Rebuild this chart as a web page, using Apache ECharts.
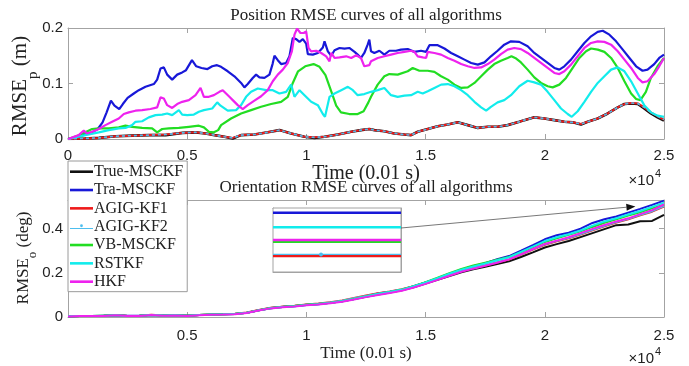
<!DOCTYPE html>
<html>
<head>
<meta charset="utf-8">
<script src="https://cdn.jsdelivr.net/npm/echarts/dist/echarts.min.js"></script>
<style>
  html, body { margin: 0; padding: 0; background: #ffffff; }
  #chart { width: 689px; height: 366px; }
</style>
</head>
<body>
<div id="chart"></div>
<script>
// ---------- data ----------
const seriesNames = ['True-MSCKF', 'Tra-MSCKF', 'AGIG-KF1', 'AGIG-KF2', 'VB-MSCKF', 'RSTKF', 'HKF'];

// Position RMSE (m): [time step, value]
const posTrue = [[0,0],[700,0.001],[1300,0.002],[2000,0.005],[2700,0.006],[3400,0.007],[4100,0.007],[4800,0.011],[5350,0.012],[5770,0.010],[6150,0.007],[6560,0.004],[6910,0.001],[7260,0.007],[7820,0.008],[8380,0.012],[8870,0.016],[9360,0.010],[9920,0.004],[10340,0.002],[10760,0.004],[11320,0.008],[11880,0.013],[12290,0.016],[12640,0.018],[12850,0.016],[13270,0.014],[13690,0.010],[14110,0.008],[14390,0.007],[14670,0.013],[15090,0.018],[15510,0.023],[15930,0.026],[16350,0.030],[16770,0.025],[17190,0.020],[17610,0.022],[18020,0.022],[18440,0.025],[18930,0.031],[19140,0.034],[19560,0.039],[19980,0.037],[20400,0.034],[20820,0.031],[21170,0.030],[21520,0.026],[21800,0.031],[22220,0.037],[22640,0.046],[23060,0.057],[23340,0.063],[23620,0.064],[23900,0.063],[24170,0.055],[24450,0.046],[24730,0.039],[25000,0.033]];
const posKF1 = [[0,0],[700,0.001],[1300,0.002],[2000,0.005],[2700,0.006],[3400,0.007],[4100,0.008],[4800,0.011],[5350,0.012],[5770,0.010],[6150,0.007],[6560,0.004],[6910,0.002],[7260,0.007],[7820,0.008],[8380,0.012],[8870,0.016],[9360,0.010],[9920,0.004],[10340,0.003],[10760,0.004],[11320,0.008],[11880,0.013],[12290,0.016],[12640,0.018],[12850,0.016],[13270,0.014],[13690,0.010],[14110,0.008],[14390,0.007],[14670,0.013],[15090,0.018],[15510,0.023],[15930,0.026],[16350,0.030],[16770,0.025],[17190,0.020],[17610,0.022],[18020,0.022],[18440,0.025],[18930,0.031],[19140,0.034],[19560,0.039],[19980,0.037],[20400,0.034],[20820,0.031],[21170,0.030],[21520,0.027],[21800,0.031],[22220,0.037],[22640,0.046],[23060,0.057],[23340,0.063],[23620,0.065],[23900,0.064],[24170,0.057],[24450,0.048],[24730,0.041],[25000,0.035]];
const posKF2 = [[0,0],[700,0.001],[1300,0.002],[2000,0.005],[2700,0.006],[3400,0.007],[4100,0.008],[4800,0.011],[5350,0.012],[5770,0.010],[6150,0.007],[6560,0.004],[6910,0.002],[7260,0.007],[7820,0.008],[8380,0.012],[8870,0.016],[9360,0.010],[9920,0.004],[10340,0.003],[10760,0.004],[11320,0.008],[11880,0.013],[12290,0.016],[12640,0.018],[12850,0.016],[13270,0.014],[13690,0.010],[14110,0.008],[14390,0.007],[14670,0.013],[15090,0.018],[15510,0.023],[15930,0.026],[16350,0.030],[16770,0.025],[17190,0.020],[17610,0.022],[18020,0.022],[18440,0.025],[18930,0.031],[19140,0.034],[19560,0.039],[19980,0.037],[20400,0.034],[20820,0.031],[21170,0.030],[21520,0.027],[21800,0.031],[22220,0.037],[22640,0.046],[23060,0.057],[23340,0.063],[23620,0.065],[23900,0.064],[24170,0.057],[24450,0.048],[24730,0.041],[25000,0.035]];
const posTra = [[0,0],[300,0.001],[700,0.008],[1000,0.012],[1250,0.018],[1450,0.030],[1620,0.048],[1800,0.069],[1950,0.060],[2150,0.054],[2300,0.063],[2500,0.074],[2760,0.082],[2970,0.088],[3250,0.094],[3600,0.099],[3740,0.107],[3880,0.127],[4020,0.129],[4160,0.116],[4370,0.107],[4580,0.116],[4790,0.120],[4950,0.124],[5100,0.135],[5200,0.142],[5380,0.131],[5600,0.128],[5850,0.126],[6050,0.131],[6250,0.133],[6420,0.130],[6700,0.122],[6980,0.113],[7260,0.101],[7400,0.093],[7540,0.099],[7750,0.110],[7890,0.116],[8030,0.111],[8240,0.110],[8450,0.116],[8580,0.135],[8660,0.150],[8800,0.142],[8940,0.135],[9150,0.137],[9290,0.149],[9430,0.182],[9570,0.180],[9710,0.175],[9850,0.180],[9990,0.172],[10060,0.153],[10270,0.152],[10480,0.155],[10690,0.165],[10760,0.176],[10900,0.158],[11040,0.150],[11180,0.160],[11390,0.164],[11600,0.163],[11800,0.164],[12020,0.157],[12150,0.152],[12290,0.146],[12430,0.155],[12570,0.170],[12640,0.179],[12710,0.158],[12850,0.155],[13060,0.159],[13270,0.152],[13480,0.159],[13760,0.159],[13970,0.161],[14250,0.162],[14530,0.157],[14810,0.159],[15020,0.157],[15160,0.169],[15510,0.169],[15790,0.163],[16070,0.155],[16350,0.149],[16630,0.143],[16910,0.137],[17190,0.134],[17470,0.138],[17740,0.149],[18020,0.159],[18300,0.170],[18580,0.176],[18930,0.175],[19280,0.167],[19560,0.155],[19840,0.146],[20120,0.137],[20400,0.128],[20610,0.125],[20820,0.131],[21100,0.143],[21380,0.158],[21660,0.173],[21940,0.185],[22220,0.193],[22430,0.195],[22710,0.188],[22990,0.176],[23270,0.161],[23550,0.146],[23830,0.131],[24100,0.123],[24310,0.125],[24590,0.135],[24800,0.146],[25000,0.152]];
const posVB = [[0,0],[400,0.006],[730,0.012],[1010,0.018],[1290,0.019],[1710,0.019],[2130,0.021],[2410,0.024],[2690,0.022],[3110,0.020],[3530,0.019],[3740,0.012],[3950,0.018],[4230,0.019],[4650,0.020],[5070,0.022],[5490,0.024],[5700,0.021],[5910,0.013],[6120,0.012],[6300,0.016],[6420,0.025],[6840,0.037],[7260,0.046],[7680,0.052],[8100,0.058],[8520,0.063],[8940,0.067],[9220,0.076],[9430,0.101],[9650,0.122],[9950,0.131],[10300,0.135],[10550,0.130],[10800,0.115],[11050,0.085],[11250,0.060],[11450,0.048],[11800,0.045],[12150,0.045],[12400,0.050],[12600,0.066],[12710,0.076],[12990,0.098],[13270,0.113],[13480,0.117],[13830,0.116],[14250,0.122],[14460,0.128],[14740,0.123],[15090,0.123],[15370,0.121],[15650,0.113],[15930,0.107],[16210,0.098],[16490,0.092],[16770,0.093],[17050,0.101],[17330,0.113],[17610,0.125],[17880,0.135],[18160,0.141],[18440,0.146],[18600,0.149],[18800,0.145],[19000,0.138],[19280,0.125],[19560,0.111],[19840,0.101],[20120,0.095],[20330,0.093],[20610,0.098],[20890,0.110],[21170,0.128],[21450,0.146],[21730,0.158],[21940,0.163],[22220,0.161],[22500,0.157],[22780,0.146],[23060,0.128],[23340,0.104],[23620,0.082],[23830,0.072],[24010,0.070],[24240,0.085],[24450,0.110],[24730,0.131],[25000,0.146]];
const posRST = [[0,0],[730,0.007],[1290,0.012],[1710,0.016],[2130,0.019],[2410,0.020],[2690,0.025],[2830,0.031],[3110,0.032],[3390,0.039],[3670,0.043],[3950,0.044],[4160,0.046],[4370,0.043],[4650,0.052],[4790,0.044],[5000,0.043],[5280,0.044],[5490,0.049],[5700,0.052],[6050,0.055],[6260,0.066],[6400,0.060],[6700,0.051],[7050,0.052],[7260,0.061],[7470,0.076],[7680,0.085],[7960,0.091],[8310,0.088],[8590,0.088],[8870,0.082],[9150,0.085],[9360,0.098],[9500,0.076],[9710,0.088],[9920,0.079],[10200,0.067],[10480,0.061],[10690,0.045],[10780,0.040],[10970,0.076],[11180,0.082],[11460,0.088],[11740,0.094],[11950,0.088],[12150,0.079],[12430,0.081],[12710,0.085],[12990,0.088],[13270,0.092],[13550,0.079],[13830,0.076],[14110,0.078],[14390,0.079],[14670,0.085],[14880,0.082],[15090,0.086],[15370,0.092],[15650,0.098],[15930,0.099],[16210,0.095],[16490,0.088],[16770,0.079],[17050,0.067],[17330,0.057],[17540,0.051],[17740,0.058],[18020,0.066],[18300,0.070],[18580,0.079],[18930,0.095],[19280,0.105],[19560,0.102],[19840,0.098],[20120,0.085],[20400,0.070],[20680,0.055],[20960,0.045],[21130,0.040],[21380,0.050],[21660,0.067],[21940,0.085],[22220,0.101],[22500,0.113],[22780,0.125],[23060,0.129],[23340,0.122],[23620,0.104],[23900,0.082],[24170,0.061],[24450,0.048],[24730,0.042],[25000,0.040]];
const posHKF = [[0,0],[450,0.007],[660,0.015],[800,0.010],[1010,0.013],[1290,0.018],[1570,0.025],[1850,0.031],[2130,0.037],[2340,0.045],[2550,0.048],[2830,0.051],[3110,0.052],[3460,0.054],[3740,0.057],[3880,0.075],[4020,0.073],[4160,0.061],[4370,0.056],[4580,0.063],[4790,0.067],[5070,0.070],[5350,0.079],[5560,0.092],[5700,0.076],[5910,0.076],[6120,0.079],[6350,0.085],[6490,0.088],[6630,0.082],[6770,0.076],[6910,0.070],[7120,0.061],[7330,0.054],[7540,0.061],[7820,0.069],[8100,0.077],[8380,0.088],[8590,0.104],[8800,0.116],[9010,0.125],[9220,0.137],[9390,0.158],[9500,0.188],[9610,0.199],[9750,0.191],[9890,0.191],[9990,0.194],[10090,0.164],[10200,0.158],[10410,0.159],[10620,0.155],[10830,0.149],[10970,0.140],[11040,0.155],[11180,0.146],[11390,0.147],[11670,0.149],[11880,0.146],[12090,0.151],[12290,0.146],[12430,0.131],[12640,0.133],[12710,0.140],[12990,0.146],[13270,0.149],[13550,0.152],[13830,0.155],[14110,0.157],[14390,0.159],[14530,0.157],[14670,0.149],[14880,0.147],[15020,0.146],[15090,0.157],[15370,0.155],[15650,0.152],[15930,0.146],[16210,0.141],[16490,0.135],[16770,0.131],[17050,0.128],[17330,0.129],[17610,0.135],[17880,0.143],[18160,0.153],[18440,0.161],[18720,0.164],[19000,0.162],[19280,0.155],[19560,0.146],[19840,0.137],[20120,0.128],[20400,0.119],[20610,0.117],[20820,0.122],[21100,0.134],[21380,0.149],[21660,0.164],[21940,0.173],[22220,0.176],[22500,0.175],[22780,0.170],[23060,0.158],[23340,0.143],[23620,0.128],[23900,0.110],[24100,0.102],[24310,0.104],[24590,0.117],[24800,0.131],[25000,0.146]];

// Orientation RMSE (deg), sampled on a common time grid
const timeO = [0,500,1000,1500,2000,2500,3000,3500,4000,4500,5000,5500,6000,6500,7000,7500,8000,8500,9000,9500,10000,10500,11000,11500,12000,12500,13000,13500,14000,14500,15000,15500,16000,16500,17000,17500,18000,18500,19000,19500,20000,20500,21000,21500,22000,22500,23000,23500,24000,24500,25000];
const oriTrue = [0.003,0.005,0.004,0.006,0.008,0.005,0.006,0.009,0.007,0.008,0.006,0.009,0.011,0.012,0.014,0.019,0.031,0.041,0.046,0.050,0.055,0.059,0.065,0.071,0.081,0.092,0.102,0.111,0.121,0.135,0.151,0.168,0.186,0.203,0.216,0.228,0.240,0.252,0.272,0.293,0.315,0.330,0.344,0.362,0.380,0.398,0.416,0.419,0.434,0.435,0.463];
const oriTra = [0.003,0.005,0.005,0.006,0.008,0.006,0.006,0.009,0.008,0.008,0.006,0.009,0.010,0.012,0.014,0.019,0.030,0.040,0.045,0.049,0.054,0.058,0.064,0.071,0.082,0.094,0.106,0.114,0.124,0.139,0.157,0.175,0.196,0.213,0.230,0.244,0.262,0.276,0.300,0.325,0.352,0.370,0.382,0.400,0.426,0.443,0.455,0.473,0.490,0.508,0.527];
const oriKF1 = [0.003,0.005,0.004,0.006,0.009,0.005,0.006,0.010,0.007,0.008,0.006,0.009,0.011,0.012,0.015,0.020,0.032,0.042,0.047,0.051,0.057,0.061,0.067,0.075,0.086,0.097,0.108,0.116,0.126,0.140,0.156,0.173,0.191,0.207,0.221,0.233,0.247,0.260,0.283,0.305,0.327,0.343,0.357,0.374,0.393,0.411,0.428,0.443,0.461,0.477,0.500];
const oriKF2 = [0.003,0.005,0.004,0.006,0.009,0.005,0.006,0.010,0.007,0.008,0.006,0.009,0.011,0.012,0.015,0.020,0.032,0.042,0.047,0.051,0.057,0.061,0.067,0.075,0.086,0.096,0.107,0.116,0.126,0.140,0.156,0.174,0.192,0.208,0.222,0.234,0.248,0.261,0.284,0.306,0.328,0.344,0.358,0.375,0.394,0.412,0.429,0.444,0.462,0.478,0.501];
const oriVB = [0.003,0.005,0.004,0.006,0.008,0.005,0.006,0.009,0.007,0.008,0.006,0.009,0.011,0.012,0.014,0.019,0.030,0.040,0.045,0.050,0.055,0.059,0.064,0.071,0.082,0.093,0.104,0.113,0.124,0.140,0.158,0.178,0.199,0.218,0.233,0.246,0.259,0.272,0.294,0.316,0.340,0.357,0.372,0.388,0.408,0.427,0.443,0.460,0.474,0.492,0.509];
const oriRST = [0.003,0.005,0.004,0.006,0.008,0.005,0.006,0.009,0.007,0.008,0.006,0.009,0.011,0.012,0.014,0.019,0.030,0.040,0.045,0.049,0.054,0.058,0.064,0.071,0.081,0.093,0.104,0.113,0.123,0.139,0.156,0.176,0.196,0.214,0.229,0.242,0.257,0.271,0.295,0.319,0.344,0.361,0.375,0.392,0.414,0.433,0.447,0.464,0.480,0.499,0.518];
const oriHKF = [0.002,0.004,0.004,0.005,0.008,0.005,0.005,0.009,0.006,0.007,0.005,0.008,0.010,0.011,0.013,0.018,0.029,0.039,0.044,0.048,0.053,0.057,0.062,0.069,0.079,0.090,0.100,0.109,0.119,0.134,0.150,0.168,0.187,0.205,0.219,0.232,0.246,0.261,0.284,0.308,0.331,0.346,0.361,0.380,0.399,0.417,0.433,0.447,0.466,0.484,0.510];

// time window of the zoomed view at the end of the run
const insetTimes = [24996, 24997.5, 25000];

// tick labels (time axis shown in units of 10^4)
const xTicks = [0, 5000, 10000, 15000, 20000, 25000];
const xTickLabels = ['0', '0.5', '1', '1.5', '2', '2.5'];
const yTicksP = [0, 0.1, 0.2];
const yTickLabelsP = ['0', '0.1', '0.2'];
const yTicksO = [0, 0.2, 0.4];
const yTickLabelsO = ['0', '0.2', '0.4'];

// ---------- styling ----------
const colors = {
  'True-MSCKF': '#111111',
  'Tra-MSCKF': '#1818d8',
  'AGIG-KF1': '#ee1a1a',
  'AGIG-KF2': '#4dbeee',
  'VB-MSCKF': '#22dd22',
  'RSTKF': '#12ecec',
  'HKF': '#ee22ee'
};
const boxColor = '#a3a3a3';
const inkColor = '#222222';
const serif = '"Liberation Serif", "Times New Roman", serif';
const sans = '"Liberation Sans", Arial, sans-serif';

const posData = [posTrue, posTra, posKF1, posKF2, posVB, posRST, posHKF];
const oriData = [oriTrue, oriTra, oriKF1, oriKF2, oriVB, oriRST, oriHKF];

function lookup(ticks, labels) {
  return function (v) {
    for (let i = 0; i < ticks.length; i++) {
      if (Math.abs(ticks[i] - v) < 1e-9) return labels[i];
    }
    return '';
  };
}

function frameAxis(extra) {
  return Object.assign({
    type: 'value',
    axisLine: { show: true, onZero: false, lineStyle: { color: boxColor, width: 1 } },
    axisTick: { show: true, inside: true, length: 5, lineStyle: { color: boxColor, width: 1 } },
    axisLabel: { show: false },
    splitLine: { show: false }
  }, extra);
}

const tickText = { fontFamily: sans, fontSize: 15, color: inkColor };

const xAxes = [
  frameAxis({ gridIndex: 0, position: 'bottom', min: 0, max: 25000, interval: 5000,
    axisLabel: Object.assign({ show: true, margin: 9, formatter: lookup(xTicks, xTickLabels) }, tickText),
    name: 'Time (0.01 s)', nameLocation: 'middle', nameGap: 21,
    nameTextStyle: { fontFamily: serif, fontSize: 20, color: inkColor } }),
  frameAxis({ gridIndex: 0, position: 'top', min: 0, max: 25000, interval: 5000 }),
  frameAxis({ gridIndex: 1, position: 'bottom', min: 0, max: 25000, interval: 5000,
    axisLabel: Object.assign({ show: true, margin: 11, showMinLabel: false, formatter: lookup(xTicks, xTickLabels) }, tickText),
    name: 'Time (0.01 s)', nameLocation: 'middle', nameGap: 28,
    nameTextStyle: { fontFamily: serif, fontSize: 17, color: inkColor } }),
  frameAxis({ gridIndex: 1, position: 'top', min: 0, max: 25000, interval: 5000 }),
  frameAxis({ gridIndex: 2, position: 'bottom', min: 24996, max: 25000, interval: 1,
    axisTick: { show: true, inside: true, length: 3, lineStyle: { color: boxColor } } }),
  frameAxis({ gridIndex: 2, position: 'top', min: 24996, max: 25000, interval: 1,
    axisTick: { show: true, inside: true, length: 3, lineStyle: { color: boxColor } } })
];

const yAxes = [
  frameAxis({ gridIndex: 0, position: 'left', min: 0, max: 0.2, interval: 0.1,
    axisLabel: Object.assign({ show: true, margin: 5, formatter: lookup(yTicksP, yTickLabelsP) }, tickText) }),
  frameAxis({ gridIndex: 0, position: 'right', min: 0, max: 0.2, interval: 0.1 }),
  frameAxis({ gridIndex: 1, position: 'left', min: 0, max: 0.53, interval: 0.2,
    axisLabel: Object.assign({ show: true, margin: 5, showMaxLabel: false, formatter: lookup(yTicksO, yTickLabelsO) }, tickText) }),
  frameAxis({ gridIndex: 1, position: 'right', min: 0, max: 0.53, interval: 0.2 }),
  frameAxis({ gridIndex: 2, position: 'left', min: 0.49, max: 0.53, interval: 0.01,
    axisTick: { show: true, inside: true, length: 3, lineStyle: { color: boxColor } } }),
  frameAxis({ gridIndex: 2, position: 'right', min: 0.49, max: 0.53, interval: 0.01,
    axisTick: { show: true, inside: true, length: 3, lineStyle: { color: boxColor } } })
];

const series = [];

// orientation panel
seriesNames.forEach(function (name, i) {
  series.push({
    name: name, type: 'line', xAxisIndex: 2, yAxisIndex: 2,
    data: timeO.map(function (t, k) { return [t, oriData[i][k]]; }),
    symbol: 'none', showSymbol: false, clip: true,
    lineStyle: { color: colors[name], width: name === 'AGIG-KF2' ? 1.4 : 2 },
    itemStyle: { color: colors[name] },
    emphasis: { disabled: true }, silent: true, z: 2
  });
});

// position panel
seriesNames.forEach(function (name, i) {
  let ls = { color: colors[name], width: 2.2 };
  if (name === 'True-MSCKF') ls.width = 2.6;
  if (name === 'AGIG-KF1') ls.width = 2;
  if (name === 'AGIG-KF2') { ls.width = 1.6; ls.type = [3, 3]; }
  series.push({
    name: name, type: 'line', xAxisIndex: 0, yAxisIndex: 0,
    data: posData[i],
    symbol: 'none', showSymbol: false, clip: true,
    lineStyle: ls, itemStyle: { color: colors[name] },
    emphasis: { disabled: true }, silent: true, z: 2
  });
});

// zoomed view of the final orientation errors
seriesNames.forEach(function (name, i) {
  const last = oriData[i][oriData[i].length - 1];
  const isKF2 = name === 'AGIG-KF2';
  series.push({
    name: name, type: 'line', xAxisIndex: 4, yAxisIndex: 4,
    data: insetTimes.map(function (t, k) {
      return { value: [t, last], symbolSize: (isKF2 && k === 1) ? 4 : 0 };
    }),
    symbol: isKF2 ? 'circle' : 'none', showSymbol: isKF2, clip: true,
    lineStyle: { color: colors[name], width: isKF2 ? 1.2 : 2.6 },
    itemStyle: { color: colors[name] },
    emphasis: { disabled: true }, silent: true, z: 4
  });
});

// legend icons: plain thick strokes, the AGIG-KF2 one thin with a dot marker
const thickIcon = 'path://M0,0L23,0L23,2.6L0,2.6Z';
const dotIcon = 'path://M0,1.3L23,1.3L23,2.3L0,2.3Z M11.5,0.4 A1.4,1.4 0 1 0 11.49,0.4 Z';
const legendData = seriesNames.map(function (name) {
  return { name: name, icon: name === 'AGIG-KF2' ? dotIcon : thickIcon };
});

const option = {
  animation: false,
  backgroundColor: '#ffffff',
  grid: [
    { left: 68, top: 28, width: 596, height: 111, show: false },
    { left: 68, top: 200, width: 596, height: 117, show: false },
    { left: 273, top: 208, width: 128, height: 64, show: true, backgroundColor: '#ffffff', borderColor: boxColor, borderWidth: 1, z: 3 }
  ],
  xAxis: xAxes,
  yAxis: yAxes,
  legend: {
    data: legendData,
    orient: 'vertical',
    left: 68, top: 161,
    itemWidth: 23, itemHeight: 14, itemGap: 2.33,
    padding: [2.7, 4, 2, 2],
    backgroundColor: '#ffffff',
    borderColor: '#9a9a9a', borderWidth: 1, borderRadius: 0,
    selectedMode: false,
    textStyle: { fontFamily: serif, fontSize: 16, color: inkColor, padding: [0, 0, 0, -4] },
    z: 10
  },
  graphic: [
    { type: 'text', x: 366, y: 16, z: 5, style: { text: 'Position RMSE curves of all algorithms', font: '17px ' + serif, fill: inkColor, align: 'center', verticalAlign: 'middle' } },
    { type: 'text', x: 366, y: 188, z: 5, style: { text: 'Orientation RMSE curves of all algorithms', font: '17px ' + serif, fill: inkColor, align: 'center', verticalAlign: 'middle' } },
    { type: 'text', x: 654, y: 181, z: 5, style: { text: '\u00d710', font: '15px ' + sans, fill: inkColor, align: 'right', verticalAlign: 'middle' } },
    { type: 'text', x: 655, y: 174, z: 5, style: { text: '4', font: '11px ' + sans, fill: inkColor, align: 'left', verticalAlign: 'middle' } },
    { type: 'text', x: 654, y: 359, z: 5, style: { text: '\u00d710', font: '15px ' + sans, fill: inkColor, align: 'right', verticalAlign: 'middle' } },
    { type: 'text', x: 655, y: 352, z: 5, style: { text: '4', font: '11px ' + sans, fill: inkColor, align: 'left', verticalAlign: 'middle' } },
    { type: 'text', x: 20, y: 86, rotation: Math.PI / 2, z: 5, style: {
        text: '{m|RMSE}{s|p}{m| (m)}', align: 'center', verticalAlign: 'middle',
        rich: {
          m: { fontFamily: serif, fontSize: 21, lineHeight: 22, fill: inkColor },
          s: { fontFamily: serif, fontSize: 15, lineHeight: 15, padding: [26, 0, 0, 0], fill: inkColor }
        } } },
    { type: 'text', x: 24, y: 258, rotation: Math.PI / 2, z: 5, style: {
        text: '{m|RMSE}{s|o}{m| (deg)}', align: 'center', verticalAlign: 'middle',
        rich: {
          m: { fontFamily: serif, fontSize: 17, lineHeight: 18, fill: inkColor },
          s: { fontFamily: serif, fontSize: 13, lineHeight: 13, padding: [18, 0, 0, 0], fill: inkColor }
        } } }
  ],
  series: series
};

const chart = echarts.init(document.getElementById('chart'), null, { renderer: 'canvas', width: 689, height: 366 });
chart.setOption(option);

// arrow from the zoomed view to the region it magnifies
const p0 = chart.convertToPixel({ xAxisIndex: 4, yAxisIndex: 4 }, [25000, 0.5175]);
const p1 = chart.convertToPixel({ xAxisIndex: 2, yAxisIndex: 2 }, [23800, 0.501]);
const dx = p1[0] - p0[0], dy = p1[1] - p0[1];
const len = Math.sqrt(dx * dx + dy * dy);
const ux = dx / len, uy = dy / len;
const headLen = 9, headHalf = 3.5;
const bx = p1[0] - ux * headLen, by = p1[1] - uy * headLen;
chart.setOption({
  graphic: option.graphic.concat([
    { type: 'line', z: 6, shape: { x1: p0[0], y1: p0[1], x2: bx, y2: by }, style: { stroke: '#555555', lineWidth: 0.8 } },
    { type: 'polygon', z: 6, shape: { points: [[p1[0], p1[1]], [bx - uy * headHalf, by + ux * headHalf], [bx + uy * headHalf, by - ux * headHalf]] }, style: { fill: '#111111' } }
  ])
}, { replaceMerge: ['graphic'] });
</script>
</body>
</html>
